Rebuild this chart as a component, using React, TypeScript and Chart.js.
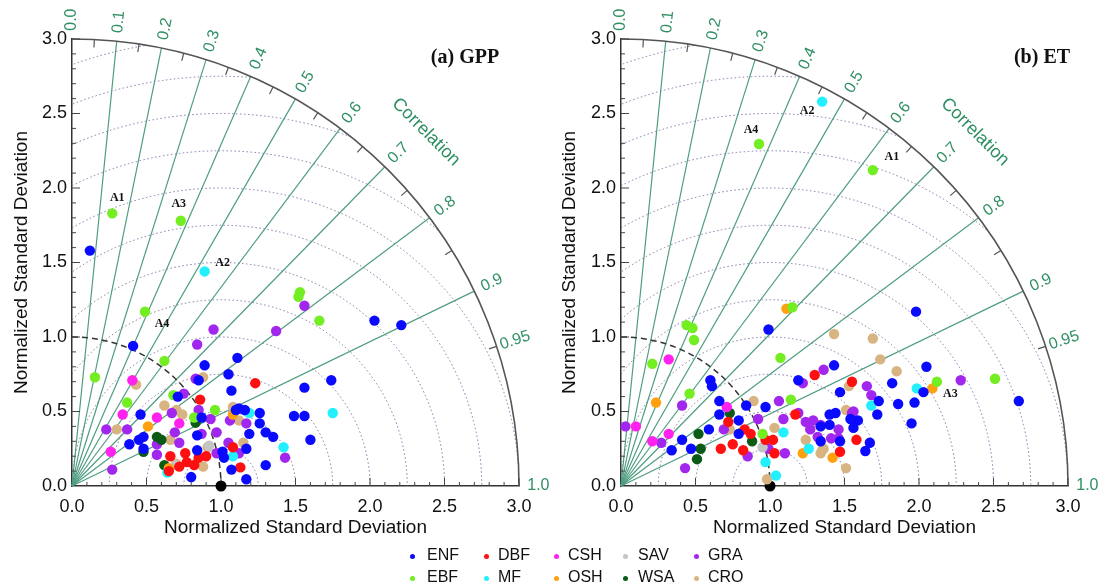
import React, { useEffect, useRef } from 'react';
import { Chart, registerables } from 'chart.js';
Chart.register(...registerables);

// ---------------- data ----------------
const categories = ['ENF', 'EBF', 'DBF', 'MF', 'CSH', 'OSH', 'SAV', 'WSA', 'GRA', 'CRO'];

// (a) GPP : [normalized std * corr, normalized std * sin] pairs
const gppENF = [[0.12,1.58],[0.41,0.94],[0.89,0.81],[1.11,0.86],[1.05,0.75],[1.07,0.64],[0.71,0.60],[0.46,0.48],[0.48,0.33],[0.385,0.28],[0.48,0.25],[0.84,0.34],[0.84,0.24],[1.01,0.23],[1.02,0.19],[1.07,0.11],[1.17,0.045],[0.80,0.06],[1.12,0.52],[1.26,0.49],[1.26,0.42],[1.30,0.36],[1.35,0.33],[1.19,0.35],[1.17,0.25],[1.30,0.14],[1.49,0.47],[1.56,0.47],[1.56,0.66],[1.74,0.71],[1.60,0.31],[0.85,0.71],[2.03,1.11],[2.21,1.08],[0.87,0.46],[1.10,0.51],[1.16,0.51],[0.45,0.31]];
const gppEBF = [[0.27,1.83],[0.73,1.78],[0.49,1.17],[0.154,0.73],[0.62,0.84],[0.37,0.56],[0.68,0.61],[0.96,0.51],[0.82,0.46],[1.53,1.30],[1.52,1.27],[1.66,1.11]];
const gppDBF = [[1.23,0.69],[0.86,0.58],[0.66,0.20],[0.76,0.22],[0.77,0.16],[0.82,0.14],[0.90,0.20],[1.08,0.26],[1.13,0.125],[0.65,0.10],[0.85,0.19],[0.72,0.13]];
const gppMF = [[0.89,1.44],[1.75,0.49],[1.42,0.26],[1.19,0.49],[1.08,0.20],[0.64,0.09]];
const gppCSH = [[0.405,0.71],[0.34,0.48],[0.57,0.46],[0.72,0.42],[0.26,0.23]];
const gppOSH = [[0.51,0.40],[1.08,0.48],[0.65,0.12]];
const gppSAV = [[0.92,0.27],[0.70,0.14]];
const gppWSA = [[0.57,0.33],[0.83,0.425],[0.48,0.23],[0.62,0.14],[0.60,0.31]];
const gppGRA = [[0.95,1.05],[1.37,1.04],[0.84,0.95],[0.83,0.72],[0.75,0.62],[0.23,0.38],[0.37,0.38],[0.85,0.51],[0.93,0.45],[1.06,0.44],[1.17,0.42],[0.69,0.36],[0.72,0.29],[0.87,0.35],[0.97,0.36],[1.05,0.29],[1.12,0.22],[0.97,0.22],[0.57,0.28],[0.57,0.21],[0.27,0.11],[1.43,0.19],[1.56,1.21],[0.67,0.49]];
const gppCRO = [[0.43,0.68],[0.88,0.73],[0.62,0.54],[0.70,0.51],[1.08,0.53],[1.12,0.44],[0.97,0.36],[0.66,0.31],[0.30,0.38],[0.91,0.26],[1.15,0.29],[0.83,0.15],[0.70,0.15],[0.88,0.13],[0.74,0.48]];

// (b) ET
const etENF = [[1.98,1.17],[1.43,0.81],[2.05,0.80],[2.67,0.57],[2.03,0.63],[1.82,0.69],[1.73,0.57],[1.86,0.55],[1.97,0.56],[1.72,0.48],[1.95,0.42],[1.47,0.63],[1.40,0.48],[1.44,0.49],[1.59,0.44],[1.54,0.45],[1.56,0.39],[1.67,0.29],[1.64,0.235],[0.99,1.05],[0.60,0.71],[0.61,0.67],[1.19,0.71],[0.66,0.57],[0.84,0.54],[0.97,0.53],[0.66,0.48],[0.79,0.44],[0.79,0.35],[0.59,0.38],[0.41,0.31],[0.47,0.25],[0.34,0.24],[1.34,0.40],[1.40,0.41],[1.34,0.30],[1.47,0.30]];
const etEBF = [[0.926,2.295],[1.69,2.12],[2.12,0.70],[2.51,0.72],[0.21,0.82],[0.46,0.62],[0.44,1.08],[0.48,1.06],[0.49,0.98],[1.15,1.20],[1.07,0.86],[1.14,0.58],[0.95,0.35]];
const etDBF = [[1.55,0.70],[1.30,0.745],[1.58,0.31],[1.47,0.23],[1.17,0.48],[0.72,0.43],[0.83,0.38],[0.87,0.35],[0.97,0.31],[1.02,0.31],[0.67,0.25],[0.75,0.28],[0.82,0.24],[1.03,0.22]];
const etMF = [[1.35,2.58],[1.985,0.655],[1.68,0.54],[1.09,0.36],[0.97,0.16],[1.04,0.07],[1.26,0.25]];
const etCSH = [[0.32,0.85],[0.71,0.53],[0.32,0.35],[0.21,0.30],[0.10,0.40]];
const etOSH = [[2.09,0.655],[1.11,1.19],[0.235,0.56],[1.22,0.22],[1.42,0.19]];
const etSAV = [[0.95,0.26]];
const etWSA = [[0.73,0.49],[0.88,0.30],[0.52,0.35],[0.535,0.25],[0.51,0.18]];
const etGRA = [[2.28,0.71],[1.36,0.78],[1.65,0.67],[1.68,0.61],[1.55,0.49],[1.46,0.38],[1.41,0.32],[0.41,0.54],[1.22,0.69],[1.06,0.57],[0.92,0.45],[1.09,0.45],[1.19,0.49],[0.69,0.38],[0.27,0.29],[0.43,0.12],[0.85,0.20],[0.99,0.25],[1.10,0.22],[1.24,0.43],[1.29,0.44],[1.34,0.41],[1.27,0.38],[1.32,0.33],[1.46,0.32],[0.03,0.40],[1.56,0.50]];
const etCRO = [[1.43,1.02],[1.69,0.99],[1.74,0.85],[1.85,0.77],[1.53,0.67],[1.51,0.51],[1.51,0.12],[1.35,0.24],[0.89,0.57],[0.73,0.38],[1.03,0.39],[0.98,0.045],[1.24,0.31],[1.34,0.22],[1.36,0.25]];

const referencePoint = [[1.0, 0.0]];

// annotated sites: [tag, category, index within that category]
const gppTags = [['A1', 'EBF', 0], ['A3', 'EBF', 1], ['A4', 'EBF', 2], ['A2', 'MF', 0]];
const etTags = [['A4', 'EBF', 0], ['A1', 'EBF', 1], ['A2', 'MF', 0], ['A3', 'OSH', 0]];

// diagram reference levels
const corrLines = [0.1, 0.2, 0.3, 0.4, 0.5, 0.6, 0.7, 0.8, 0.9];
const corrLabels = [0.0, 0.1, 0.2, 0.3, 0.4, 0.5, 0.6, 0.7, 0.8, 0.9, 0.95, 1.0];
const corrArcTicks = [0.05, 0.15, 0.25, 0.35, 0.45, 0.55, 0.65, 0.75, 0.85, 0.95];
const rmsLevels = [0.25, 0.5, 0.75, 1.0, 1.25, 1.5, 1.75, 2.0, 2.25, 2.5, 2.75, 3.0];
const stdMax = 3;

// ---------------- styles ----------------
const colors: Record<string, string> = {
  ENF: '#0a0aff', EBF: '#72ee22', DBF: '#ff1010', MF: '#22f0ff', CSH: '#ff22ee',
  OSH: '#ffa010', SAV: '#c4c4c4', WSA: '#0b5a16', GRA: '#a227ee', CRO: '#d8b482',
};
const SANS = '"Liberation Sans", Arial, Helvetica, sans-serif';
const SERIF = '"Liberation Serif", "Times New Roman", serif';
const GREEN_TEXT = '#2f8f62';
const GREEN_LINE = '#4f9d80';

const gppOffsets: Record<string, [number, number]> = { A1: [5, -15], A3: [-2, -17], A2: [18, -9], A4: [17, 12] };
const etOffsets: Record<string, [number, number]> = { A4: [-8, -14], A2: [-15, 9], A1: [19, -13], A3: [18, 6] };

function makePlugin(title: string, titleDx: number, tags: any[], offsets: Record<string, [number, number]>) {
  return {
    id: 'taylor',
    beforeDatasetsDraw(chart: any) {
      const { ctx } = chart;
      const xs = chart.scales.x, ys = chart.scales.y;
      const px = (v: number) => xs.getPixelForValue(v);
      const py = (v: number) => ys.getPixelForValue(v);
      const ox = px(0), oy = py(0);
      const ux = px(1) - ox, uy = oy - py(1);
      // RMS difference circles (dotted), clipped to the quarter disc
      ctx.save();
      ctx.beginPath();
      ctx.moveTo(ox, oy);
      ctx.ellipse(ox, oy, stdMax * ux, stdMax * uy, 0, -Math.PI / 2, 0);
      ctx.closePath();
      ctx.clip();
      ctx.setLineDash([1.5, 2.5]);
      ctx.lineWidth = 1;
      ctx.strokeStyle = 'rgba(115,110,165,0.9)';
      for (const r of rmsLevels) {
        ctx.beginPath();
        ctx.ellipse(px(1), oy, r * ux, r * uy, 0, Math.PI, 2 * Math.PI);
        ctx.stroke();
      }
      ctx.restore();
      ctx.save();
      // correlation rays
      ctx.strokeStyle = GREEN_LINE;
      ctx.lineWidth = 1.2;
      for (const c of corrLines) {
        const s = Math.sqrt(1 - c * c);
        ctx.beginPath();
        ctx.moveTo(ox, oy);
        ctx.lineTo(px(stdMax * c), py(stdMax * s));
        ctx.stroke();
      }
      // dashed reference arc (std = 1)
      ctx.setLineDash([6, 4]);
      ctx.strokeStyle = '#333';
      ctx.lineWidth = 1.5;
      ctx.beginPath();
      ctx.ellipse(ox, oy, ux, uy, 0, -Math.PI / 2, 0);
      ctx.stroke();
      ctx.setLineDash([]);
      // outer arc
      ctx.strokeStyle = '#555';
      ctx.lineWidth = 1.6;
      ctx.beginPath();
      ctx.ellipse(ox, oy, stdMax * ux, stdMax * uy, 0, -Math.PI / 2, 0);
      ctx.stroke();
      // arc ticks
      ctx.lineWidth = 1.2;
      for (const c of corrArcTicks) {
        const s = Math.sqrt(1 - c * c);
        ctx.beginPath();
        ctx.moveTo(ox + stdMax * ux * c, oy - stdMax * uy * s);
        ctx.lineTo(ox + (stdMax * ux - 8) * c, oy - (stdMax * uy - 8) * s);
        ctx.stroke();
      }
      // inward axis ticks
      ctx.strokeStyle = '#444';
      ctx.lineWidth = 1;
      for (let i = 1; i <= 30; i++) {
        const v = i / 10;
        const len = i % 5 === 0 ? 8 : 4;
        ctx.beginPath();
        ctx.moveTo(px(v), oy);
        ctx.lineTo(px(v), oy - len);
        ctx.moveTo(ox, py(v));
        ctx.lineTo(ox + len, py(v));
        ctx.stroke();
      }
      ctx.restore();
    },
    afterDraw(chart: any) {
      const { ctx } = chart;
      const xs = chart.scales.x, ys = chart.scales.y;
      const ox = xs.getPixelForValue(0), oy = ys.getPixelForValue(0);
      const ux = xs.getPixelForValue(1) - ox, uy = oy - ys.getPixelForValue(1);
      ctx.save();
      ctx.fillStyle = GREEN_TEXT;
      ctx.textAlign = 'center';
      ctx.textBaseline = 'middle';
      ctx.font = `16px ${SANS}`;
      for (const c of corrLabels) {
        const th = Math.acos(c);
        const r = 3.13;
        ctx.save();
        ctx.translate(ox + r * ux * Math.cos(th), oy - r * uy * Math.sin(th));
        ctx.rotate(-th);
        ctx.fillText(c === 0.95 ? '0.95' : c.toFixed(1), 0, 0);
        ctx.restore();
      }
      ctx.font = `18px ${SANS}`;
      const thC = Math.PI / 4;
      ctx.save();
      ctx.translate(ox + 3.36 * ux * Math.cos(thC), oy - 3.36 * uy * Math.sin(thC));
      ctx.rotate(Math.PI / 2 - thC);
      ctx.fillText('Correlation', 0, 0);
      ctx.restore();
      // panel title
      ctx.fillStyle = '#111';
      ctx.font = `bold 20px ${SERIF}`;
      ctx.fillText(title, ox + titleDx, 58);
      // site tags
      ctx.font = `bold 12px ${SERIF}`;
      for (const [tag, cat, idx] of tags) {
        const di = categories.indexOf(cat);
        const el = chart.getDatasetMeta(di).data[idx];
        if (!el) continue;
        const [dx, dy] = offsets[tag];
        ctx.fillText(tag, el.x + dx, el.y + dy);
      }
      ctx.restore();
    },
  };
}

function buildConfig(series: number[][][], opts: any) {
  const toXY = (arr: number[][]) => arr.map(([x, y]) => ({ x, y }));
  const datasets: any[] = categories.map((cat, i) => ({
    label: cat,
    data: toXY(series[i]),
    backgroundColor: colors[cat],
    borderColor: colors[cat],
    pointRadius: 5.2,
    pointBorderWidth: 0,
    clip: false,
  }));
  datasets.push({
    label: 'Reference',
    data: toXY(referencePoint),
    backgroundColor: '#000',
    borderColor: '#000',
    pointRadius: 5.5,
    pointBorderWidth: 0,
    clip: false,
  });
  const tickFont = { family: SANS, size: 18 };
  const titleFont = { family: SANS, size: 19 };
  return {
    type: 'scatter',
    data: { datasets },
    options: {
      responsive: false,
      maintainAspectRatio: false,
      animation: false,
      events: [],
      layout: { padding: { top: 39, right: opts.padRight, bottom: 0, left: 0 } },
      plugins: { legend: { display: false }, tooltip: { enabled: false } },
      scales: {
        x: {
          type: 'linear', min: 0, max: stdMax,
          ticks: { stepSize: 0.5, callback: (v: number) => Number(v).toFixed(1), font: tickFont, color: '#111', padding: 10, maxRotation: 0, autoSkip: false },
          grid: { display: false, drawTicks: false },
          border: { display: true, color: '#333', width: 1.5 },
          title: { display: true, text: 'Normalized Standard Deviation', font: titleFont, color: '#111', padding: { top: 0, bottom: 46 } },
          afterFit: (s: any) => { s.height = 99; },
        },
        y: {
          type: 'linear', min: 0, max: stdMax,
          ticks: { stepSize: 0.5, callback: (v: number) => Number(v).toFixed(1), font: tickFont, color: '#111', padding: 5 },
          grid: { display: false, drawTicks: false },
          border: { display: true, color: '#333', width: 1.5 },
          title: { display: true, text: 'Normalized Standard Deviation', font: titleFont, color: '#111', padding: { top: opts.yTitlePad, bottom: 0 } },
          afterFit: (s: any) => { s.width = opts.yWidth; },
        },
      },
    },
    plugins: [makePlugin(opts.title, opts.titleDx, opts.tags, opts.offsets)],
  };
}

function Panel(props: { left: number; width: number; series: number[][][]; opts: any }) {
  const ref = useRef<HTMLCanvasElement>(null);
  useEffect(() => {
    if (!ref.current) return;
    const chart = new Chart(ref.current, buildConfig(props.series, props.opts) as any);
    return () => chart.destroy();
  }, []);
  return (
    <canvas
      ref={ref}
      width={props.width}
      height={585}
      style={{ position: 'absolute', left: props.left, top: 0, width: props.width, height: 585 }}
    />
  );
}

const legendColX = [412, 486, 556, 625, 696];
const legendTextX = [427, 498, 568, 638, 708];
const legendRowY = [556, 578];

export default function App() {
  const gppSeries = [gppENF, gppEBF, gppDBF, gppMF, gppCSH, gppOSH, gppSAV, gppWSA, gppGRA, gppCRO];
  const etSeries = [etENF, etEBF, etDBF, etMF, etCSH, etOSH, etSAV, etWSA, etGRA, etCRO];
  return (
    <div style={{ position: 'absolute', left: 0, top: 0, width: 1101, height: 585, background: '#fff', overflow: 'hidden' }}>
      <Panel left={0} width={560} series={gppSeries}
        opts={{ padRight: 41, yWidth: 72, yTitlePad: 10, title: '(a) GPP', titleDx: 393, tags: gppTags, offsets: gppOffsets }} />
      <Panel left={545} width={556} series={etSeries}
        opts={{ padRight: 33, yWidth: 76, yTitlePad: 13, title: '(b) ET', titleDx: 421, tags: etTags, offsets: etOffsets }} />
      {categories.map((cat, i) => {
        const col = Math.floor(i / 2), row = i % 2;
        return (
          <React.Fragment key={cat}>
            <div style={{ position: 'absolute', left: legendColX[col] - 2.5, top: legendRowY[row] - 2.5, width: 5, height: 5, borderRadius: '50%', background: colors[cat] }} />
            <div style={{ position: 'absolute', left: legendTextX[col], top: legendRowY[row] - 11, font: `16px ${SANS}`, lineHeight: '20px', color: '#111', whiteSpace: 'nowrap' }}>{cat}</div>
          </React.Fragment>
        );
      })}
    </div>
  );
}
